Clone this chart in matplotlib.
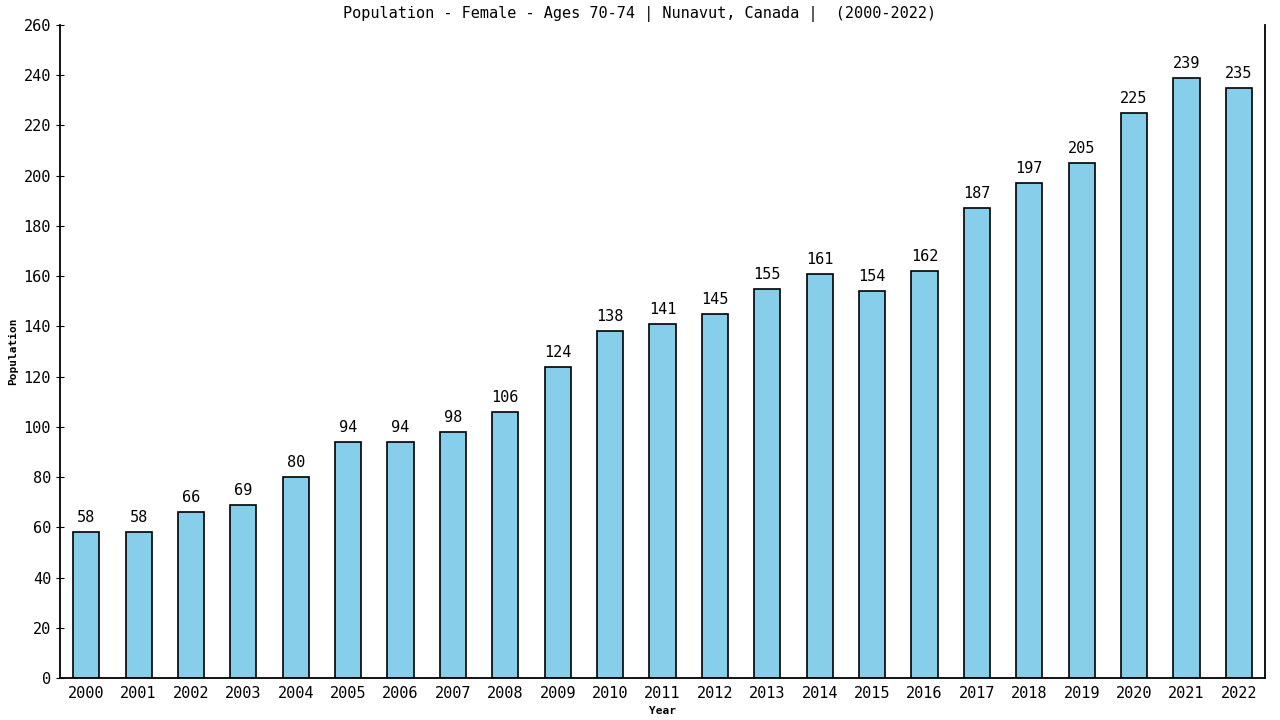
import matplotlib
matplotlib.use("Agg")
import matplotlib.pyplot as plt

years = list(range(2000, 2023))
population = [58, 58, 66, 69, 80, 94, 94, 98, 106, 124, 138, 141, 145,
              155, 161, 154, 162, 187, 197, 205, 225, 239, 235]
yticks = list(range(0, 261, 20))

plt.rcParams['font.family'] = ['DejaVu Sans Mono']

fig = plt.figure(figsize=(12.8, 7.2), dpi=100)
ax = fig.add_axes([0.0469, 0.0583, 0.9414, 0.907])

x = list(range(len(years)))
ax.bar(x, population, width=0.5, color='#87ceeb', edgecolor='black', linewidth=1.2)
for xi, v in zip(x, population):
    ax.annotate(str(v), (xi, v), xytext=(0, 5), textcoords='offset points',
                ha='center', va='bottom', fontsize=11)

ax.set_xlim(-0.5, len(years) - 0.5)
ax.set_ylim(0, 260)
ax.set_yticks(yticks)
ax.set_xticks(x)
ax.set_xticklabels([str(y) for y in years])
ax.tick_params(axis='x', length=0, labelsize=11, pad=6)
ax.tick_params(axis='y', length=6, labelsize=11, direction='inout')

ax.spines['top'].set_visible(False)
for s in ['left', 'right', 'bottom']:
    ax.spines[s].set_linewidth(1.3)

ax.set_xlabel('Year', fontsize=8, fontweight='bold', labelpad=3)
ax.set_ylabel('Population', fontsize=8, fontweight='bold', labelpad=4)
fig.text(0.5, 0.981, 'Population - Female - Ages 70-74 | Nunavut, Canada |  (2000-2022)',
         ha='center', va='center', fontsize=11)

fig.savefig('out.png', dpi=100)
